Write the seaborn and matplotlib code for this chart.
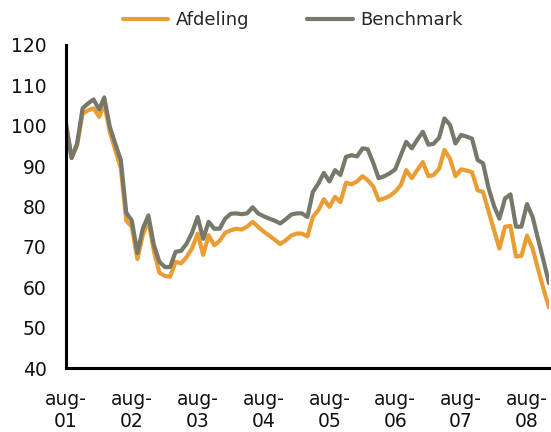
import matplotlib
matplotlib.use("Agg")
import matplotlib.pyplot as plt
import seaborn as sns
import pandas as pd

# monthly index values, aug-01 .. dec-08
months = pd.date_range("2001-08-01", periods=89, freq="MS")

afdeling = [100.3, 92.0, 95.0, 103.0, 103.8, 104.3, 102.2, 105.5, 98.5, 94.0,
            89.5, 76.5, 75.0, 67.0, 73.0, 76.5, 69.0, 63.6, 62.8, 62.6,
            66.3, 65.9, 67.5, 69.6, 73.3, 68.0, 72.9, 70.4, 71.5, 73.5,
            74.1, 74.5, 74.3, 75.0, 76.2, 75.0, 73.8, 72.8, 71.8, 70.7,
            71.6, 72.8, 73.3, 73.3, 72.6, 77.4, 79.1, 81.8, 79.9, 82.4,
            81.1, 85.9, 85.5, 86.2, 87.5, 86.5, 85.0, 81.6, 82.0, 82.6,
            83.7, 85.3, 89.0, 87.0, 89.0, 91.0, 87.5, 87.8, 89.3, 94.0,
            91.8, 87.5, 89.2, 88.9, 88.5, 84.0, 83.6, 78.8, 74.0, 69.6,
            75.0, 75.2, 67.6, 67.8, 72.8, 69.6, 64.5, 59.5, 55.0]

benchmark = [100.5, 92.0, 95.5, 104.3, 105.5, 106.5, 104.0, 107.0, 99.7, 95.6,
             91.5, 78.5, 76.5, 68.5, 74.5, 77.8, 70.5, 66.3, 65.0, 65.0,
             68.8, 69.0, 70.8, 73.5, 77.4, 72.0, 76.2, 74.5, 74.5, 77.0,
             78.2, 78.3, 78.1, 78.3, 79.8, 78.3, 77.6, 77.0, 76.5, 75.8,
             76.8, 78.0, 78.3, 78.3, 77.4, 83.6, 85.7, 88.3, 86.2, 89.0,
             87.8, 92.3, 92.7, 92.4, 94.4, 94.2, 90.8, 87.0, 87.5, 88.2,
             89.2, 92.7, 96.0, 94.4, 96.5, 98.5, 95.3, 95.5, 97.0, 101.8,
             100.2, 95.6, 97.7, 97.3, 96.8, 91.5, 90.7, 84.5, 80.0, 77.0,
             82.0, 83.0, 75.0, 75.0, 80.6, 77.4, 72.0, 66.5, 61.0]

tick_dates = pd.date_range("2001-08-01", "2008-08-01", freq="12MS")
tick_labels = ["aug-\n%02d" % (d.year % 100) for d in tick_dates]
y_ticks = list(range(40, 121, 10))

df = pd.DataFrame({"Dato": months, "Afdeling": afdeling, "Benchmark": benchmark})
df = df.melt(id_vars="Dato", var_name="Serie", value_name="Indeks")

sns.set_style("white")
plt.rcParams["font.family"] = ["DejaVu Sans"]

fig = plt.figure(figsize=(5.51, 4.32), dpi=100)
ax = fig.add_axes([0.1198, 0.148, 0.8766, 0.748])

sns.lineplot(data=df, x="Dato", y="Indeks", hue="Serie",
             palette={"Afdeling": "#EA9D32", "Benchmark": "#77776A"},
             linewidth=3.0, ax=ax)

ax.set_xlim(months[0], months[-1])
ax.set_ylim(40, 120)
ax.set_yticks(y_ticks)
ax.set_xticks(tick_dates)
ax.set_xticklabels(tick_labels, linespacing=1.15)
ax.set_xlabel("")
ax.set_ylabel("")

for s in ["top", "right"]:
    ax.spines[s].set_visible(False)
for s in ["left", "bottom"]:
    ax.spines[s].set_color("black")
    ax.spines[s].set_linewidth(2.2)

ax.tick_params(axis="both", direction="out", length=4, width=2, colors="black",
               labelsize=13.5, labelcolor="#111111")
ax.tick_params(axis="y", pad=10)
ax.tick_params(axis="x", pad=12)
ax.grid(False)

sns.move_legend(ax, "center", bbox_to_anchor=(0.47, 1.077), ncol=2, title=None,
                frameon=False, fontsize=13, handlelength=2.5, handletextpad=0.45,
                columnspacing=3.2)
for line in ax.get_legend().get_lines():
    line.set_linewidth(3.0)

fig.savefig("out.png", dpi=100)
